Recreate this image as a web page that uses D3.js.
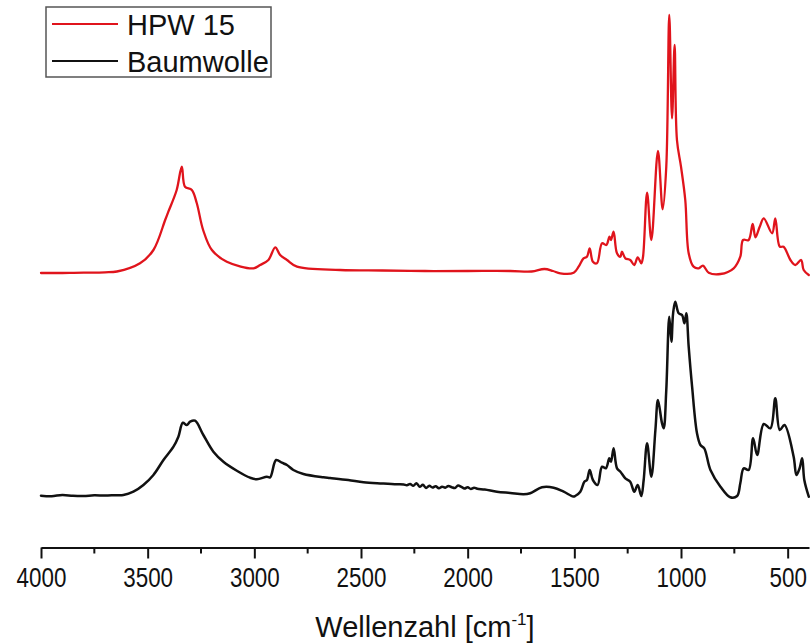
<!DOCTYPE html>
<html>
<head>
<meta charset="utf-8">
<script src="https://cdn.jsdelivr.net/npm/d3@7"></script>
<style>
  html, body { margin: 0; padding: 0; background: #fff; }
  svg { display: block; }
  text { font-family: "Liberation Sans", Arial, sans-serif; fill: #111; }
</style>
</head>
<body>
<svg id="chart" width="811" height="643"></svg>
<script>
// ---- Data ----
const seriesNames = ["HPW 15", "Baumwolle"];
const seriesColors = ["#e0141c", "#111111"];

// HPW 15 : wavenumber / intensity (a.u.)
const hpwWavenumber = [4000,3900,3800,3700,3644,3536,3473,3418,3403,3364,3340,3325,3293,3270,3240,3199,3129,3004,2973,2934,2902,2879,2847,2800,2598,2400,2200,2000,1800,1700,1640,1600,1566,1503,1480,1457,1441,1428,1413,1394,1370,1350,1335,1328,1316,1300,1284,1277,1261,1238,1219,1203,1186,1178,1159,1139,1108,1086,1069,1055,1042,1030,1019,1000,980,964,941,917,897,870,815,753,722,709,683,664,651,631,612,573,558,537,519,487,464,437,425,401];
const hpwIntensity = [2.75,2.75,2.753,2.757,2.765,2.847,2.98,3.28,3.363,3.58,3.813,3.613,3.58,3.45,3.18,2.98,2.863,2.797,2.83,2.88,3.007,2.93,2.88,2.813,2.78,2.775,2.77,2.77,2.77,2.765,2.79,2.77,2.747,2.753,2.813,2.897,2.913,2.997,2.863,2.847,3.047,3.03,3.113,3.08,3.163,2.947,2.913,2.963,2.897,2.88,2.83,2.907,2.847,2.913,3.553,3.08,3.97,3.387,3.813,5.33,4.297,5.03,4.08,3.813,3.48,2.947,2.813,2.797,2.823,2.753,2.74,2.797,2.913,3.08,3.08,3.24,3.107,3.213,3.297,3.147,3.297,3.013,3.013,2.88,2.83,2.88,2.78,2.73];

// Baumwolle : wavenumber / intensity (a.u.)
const bwWavenumber = [4000,3950,3900,3850,3800,3750,3700,3650,3614,3567,3520,3473,3426,3379,3356,3335,3317,3301,3278,3239,3192,3145,3082,3020,2988,2941,2926,2898,2871,2847,2817,2770,2676,2645,2560,2488,2400,2332,2300,2285,2270,2255,2240,2225,2210,2195,2180,2165,2150,2135,2120,2105,2090,2075,2060,2045,2030,2015,2000,1985,1970,1955,1920,1863,1800,1738,1707,1652,1597,1550,1505,1496,1472,1453,1441,1428,1413,1391,1370,1352,1336,1328,1316,1300,1284,1261,1238,1219,1203,1186,1175,1159,1139,1120,1108,1089,1081,1069,1055,1045,1037,1027,1011,995,984,975,964,948,925,909,891,862,815,769,737,722,706,683,662,643,612,581,558,537,515,472,459,444,432,422,401];
const bwIntensity = [0.523,0.518,0.53,0.522,0.52,0.527,0.524,0.528,0.53,0.563,0.63,0.73,0.88,1.013,1.113,1.253,1.23,1.263,1.273,1.13,0.963,0.863,0.773,0.703,0.687,0.713,0.707,0.88,0.853,0.83,0.78,0.74,0.707,0.7,0.68,0.657,0.645,0.637,0.635,0.628,0.64,0.622,0.648,0.612,0.632,0.6,0.622,0.605,0.618,0.598,0.613,0.603,0.62,0.608,0.6,0.625,0.612,0.594,0.608,0.59,0.603,0.592,0.585,0.563,0.55,0.537,0.547,0.607,0.603,0.563,0.515,0.52,0.563,0.663,0.68,0.78,0.68,0.63,0.813,0.797,0.897,0.863,0.997,0.797,0.763,0.697,0.663,0.563,0.63,0.52,0.68,1.047,0.713,1.18,1.48,1.247,1.197,1.58,2.313,2.063,2.347,2.463,2.347,2.33,2.247,2.347,2.013,1.613,1.147,1.03,0.997,0.78,0.613,0.507,0.52,0.647,0.797,0.78,1.097,0.93,1.24,1.197,1.497,1.18,1.23,0.913,0.73,0.797,0.897,0.68,0.513];

const xMajorTicks = [4000,3500,3000,2500,2000,1500,1000,500];
const xMinorTicks = [3750,3250,2750,2250,1750,1250,750];
const xLabel = "Wellenzahl [cm";
const xLabelSup = "-1";

// ---- Layout ----
const svg = d3.select("#chart");
const plotLeft = 41, plotRight = 809, plotTop = 0, plotBottom = 548;

const x = d3.scaleLinear().domain([4000, 400]).range([plotLeft, plotRight]);
const y = d3.scaleLinear().domain([0, 5.48]).range([plotBottom, plotTop]);

const line = d3.line()
  .x(d => x(d[0])).y(d => y(d[1]))
  .curve(d3.curveCatmullRom.alpha(0.5));

const series = [
  d3.zip(hpwWavenumber, hpwIntensity),
  d3.zip(bwWavenumber, bwIntensity)
];

// curves
svg.append("g").selectAll("path")
  .data(series)
  .join("path")
  .attr("d", line)
  .attr("fill", "none")
  .attr("stroke", (d, i) => seriesColors[i])
  .attr("stroke-width", (d, i) => i === 0 ? 2.3 : 2.5)
  .attr("stroke-linejoin", "round")
  .attr("stroke-linecap", "round");

// x axis
const axisG = svg.append("g").attr("transform", `translate(0,${plotBottom - 0.5})`);
axisG.call(d3.axisBottom(x).tickValues(xMajorTicks).tickSize(11).tickSizeOuter(0).tickFormat(d3.format("d")));
axisG.select(".domain").attr("stroke", "#111").attr("stroke-width", 2);
axisG.selectAll(".tick line").attr("stroke", "#111").attr("stroke-width", 2);
axisG.selectAll(".tick text")
  .attr("font-size", 28)
  .attr("font-family", "'Liberation Sans', Arial, sans-serif")
  .attr("fill", "#111")
  .attr("dy", null)
  .attr("y", 40)
  .style("transform", "scaleX(0.8)");

axisG.selectAll(".minor")
  .data(xMinorTicks)
  .join("line")
  .attr("class", "minor")
  .attr("x1", d => x(d)).attr("x2", d => x(d))
  .attr("y1", 0).attr("y2", 6)
  .attr("stroke", "#111").attr("stroke-width", 2);

// x label
const lbl = svg.append("text")
  .attr("x", (plotLeft + plotRight) / 2)
  .attr("y", 637)
  .attr("text-anchor", "middle")
  .attr("font-size", 29);
lbl.append("tspan").text(xLabel);
lbl.append("tspan").attr("font-size", 17).attr("dy", -12).text(xLabelSup);
lbl.append("tspan").attr("dy", 12).text("]");

// legend
const legend = svg.append("g");
legend.append("rect")
  .attr("x", 46).attr("y", 7).attr("width", 225).attr("height", 70)
  .attr("fill", "#fff").attr("stroke", "#555").attr("stroke-width", 1.5);
const legendY = [24, 61];
seriesNames.forEach((name, i) => {
  legend.append("line")
    .attr("x1", 52).attr("x2", 118)
    .attr("y1", legendY[i]).attr("y2", legendY[i])
    .attr("stroke", seriesColors[i]).attr("stroke-width", 2);
  legend.append("text")
    .attr("x", 127).attr("y", legendY[i] + 11)
    .attr("font-size", 29)
    .text(name);
});
</script>
</body>
</html>
